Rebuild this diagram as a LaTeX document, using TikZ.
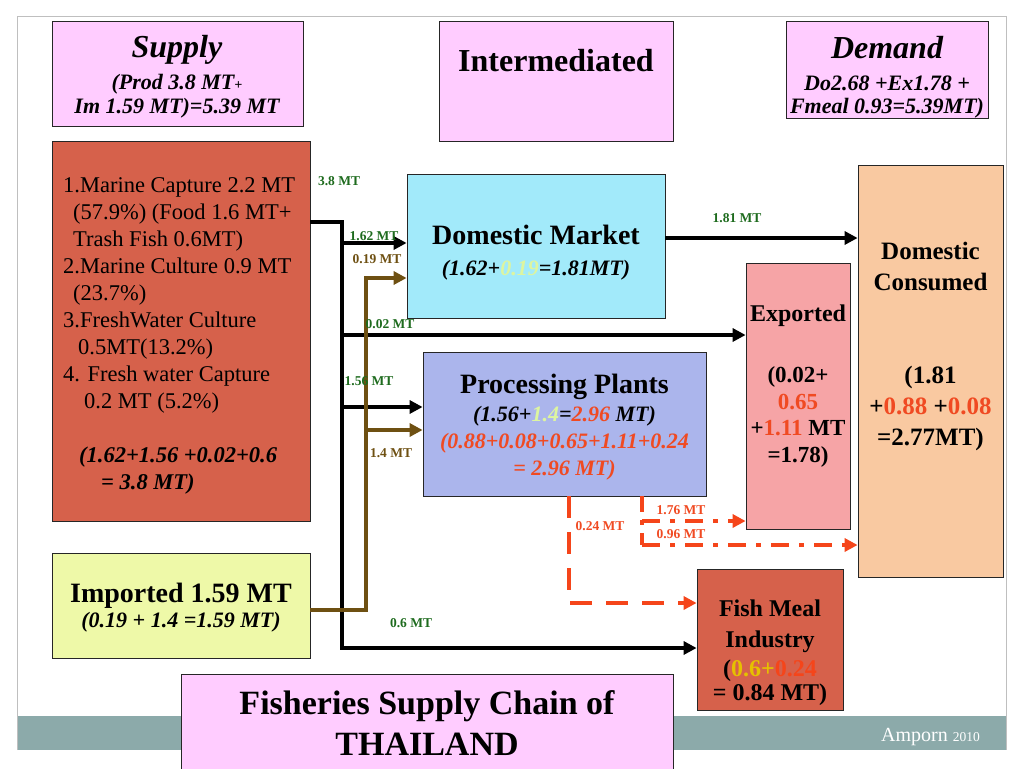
\documentclass[tikz,border=0pt]{standalone}
\usepackage{fontspec}
\setmainfont{Liberation Serif}
\usetikzlibrary{arrows.meta}
\definecolor{pinkbox}{HTML}{FFCCFF}
\definecolor{srcred}{HTML}{D6614B}
\definecolor{cyanbox}{HTML}{A2EAFA}
\definecolor{lavbox}{HTML}{ABB5EC}
\definecolor{expbox}{HTML}{F6A4A6}
\definecolor{peachbox}{HTML}{F9C9A1}
\definecolor{impbox}{HTML}{EEF9A8}
\definecolor{lblgreen}{HTML}{1E6B1E}
\definecolor{brn}{HTML}{6E5012}
\definecolor{redl}{HTML}{F5451A}
\definecolor{redt}{HTML}{F04A22}
\definecolor{paleg}{HTML}{DDF5A0}
\definecolor{yel}{HTML}{E6C000}
\definecolor{band}{HTML}{8CAAAA}
\newcommand{\fsz}[2]{\fontsize{#1}{#2}\selectfont}
\begin{document}
\begin{tikzpicture}[x=1pt,y=-1pt,
  box/.style={draw=black!85, line width=0.8pt, inner sep=0pt},
  txt/.style={inner sep=0pt, align=center},
  lbl/.style={inner sep=0pt, font=\bfseries\fsz{13.5}{15}, text=lblgreen},
  blk/.style={line width=3.2pt, draw=black},
  blka/.style={blk, -{Triangle[length=13pt,width=13pt]}},
  brna/.style={line width=3.4pt, draw=brn, -{Triangle[length=13pt,width=13pt]}},
  reddash/.style={line width=4pt, draw=redl, dash pattern=on 22pt off 14pt, -{Triangle[length=13pt,width=13pt]}},
  reddd/.style={line width=4pt, draw=redl, dash pattern=on 18pt off 10pt on 5pt off 10pt, -{Triangle[length=13pt,width=13pt]}},
  reddd0/.style={line width=4pt, draw=redl, dash pattern=on 16pt off 8pt on 5pt off 8pt}
]
\useasboundingbox (0,0) rectangle (1024,768);
% slide frame
\fill[band] (17,716) rectangle (1006,750);
\draw[black!25, line width=1pt] (17,750) -- (17,17) -- (1006,17) -- (1006,750);
\node[inner sep=0pt, text=white, anchor=base east] (amp) at (980,741) {\fsz{20}{22}Amporn {\fsz{13.5}{15}2010}};

% header boxes
\node[box, fill=pinkbox, minimum width=251pt, minimum height=105pt] (sup) at (177.5,73.5) {};
\node[txt, font=\bfseries\itshape\fsz{22}{24}] (supt) at (177,76.5) {{\fsz{32}{32}Supply}\\[8pt](Prod 3.8 MT{\fsz{14}{16}+}\\Im 1.59 MT)=5.39 MT};
\node[box, fill=pinkbox, minimum width=234pt, minimum height=120pt] (int) at (556,81) {};
\node[txt, font=\bfseries\fsz{32}{34}, anchor=base] (intt) at (556,71) {Intermediated};
\node[box, fill=pinkbox, minimum width=202pt, minimum height=97pt] (dem) at (887,69.5) {};
\node[txt, font=\bfseries\itshape\fsz{22}{23.5}] (demt) at (887,77) {{\fsz{32}{32}Demand}\\[8.5pt]Do2.68 +Ex1.78 +\\Fmeal 0.93=5.39MT)};

% source boxes
\node[box, fill=srcred, minimum width=258pt, minimum height=380pt] (src) at (181,331) {};
\node[inner sep=0pt, align=left, anchor=north west, font=\fsz{22.5}{27}] (srct) at (63,177) {1.Marine Capture 2.2 MT\\
\hspace*{10pt}(57.9\%) (Food 1.6 MT+\\
\hspace*{10pt}Trash Fish 0.6MT)\\
2.Marine Culture 0.9 MT\\
\hspace*{10pt}(23.7\%)\\
3.FreshWater Culture\\
\hspace*{15pt}0.5MT(13.2\%)\\
4. Fresh water Capture\\
\hspace*{21pt}0.2 MT (5.2\%)\\[27pt]
\hspace*{16pt}\bfseries\itshape (1.62+1.56 +0.02+0.6\\
\hspace*{38pt}\bfseries\itshape = 3.8 MT)};
\node[box, fill=impbox, minimum width=258pt, minimum height=105pt] (imp) at (181,605.5) {};
\node[txt, font=\bfseries\fsz{22}{25}] (impt) at (181,608) {{\fsz{28}{30}Imported 1.59 MT}\\\itshape (0.19 + 1.4 =1.59 MT)};

% middle boxes
\node[box, fill=cyanbox, minimum width=258pt, minimum height=144pt] (dm) at (536,246) {};
\node[txt, font=\bfseries\fsz{22}{31}] (dmt) at (536,253) {{\fsz{28}{30}Domestic Market}\\\itshape (1.62+\textcolor{paleg}{0.19}=1.81MT)};
\node[box, fill=lavbox, minimum width=283pt, minimum height=144pt] (pp) at (564.5,424) {};
\node[txt, font=\bfseries\itshape\fsz{22}{27}] (ppt) at (564.5,427) {{\upshape\fsz{28}{30}Processing Plants}\\[1pt](1.56+\textcolor{paleg}{1.4}=\textcolor{redt}{2.96} MT)\\
\textcolor{redt}{(0.88+0.08+0.65+1.11+0.24}\\\textcolor{redt}{= 2.96 MT)}};

% right boxes
\node[box, fill=peachbox, minimum width=145pt, minimum height=412pt] (dc) at (930.5,371) {};
\node[txt, font=\bfseries\fsz{25}{31}] (dct) at (930.5,346) {Domestic\\Consumed\\[62pt](1.81\\+\textcolor{redt}{0.88} +\textcolor{redt}{0.08}\\=2.77MT)};
\node[box, fill=expbox, minimum width=104pt, minimum height=266pt] (ex) at (798,396) {};
\node[txt, font=\bfseries\fsz{23}{26.5}] (ext) at (798,386) {{\fsz{24}{26}Exported}\\[34.5pt](0.02+\\\textcolor{redt}{0.65}\\+\textcolor{redt}{1.11} MT\\=1.78)};
\node[box, fill=srcred, minimum width=146pt, minimum height=141pt] (fm) at (770,639.5) {};
\node[txt, font=\bfseries\fsz{24}{28}] (fmt) at (770,653) {Fish Meal\\[3pt]Industry\\[1pt](\textcolor{yel}{0.6+}\textcolor{redl}{0.24}\\[-4pt]= 0.84 MT)};

% title
\node[box, fill=pinkbox, minimum width=492pt, minimum height=104pt, anchor=north] (ttl) at (427,674) {};
\node[txt, font=\bfseries\fsz{34}{41}] (ttlt) at (427,723.5) {Fisheries Supply Chain of\\THAILAND};

% black connectors
\coordinate (b1) at (342,222);
\coordinate (b2) at (342,243);
\coordinate (b3) at (342,335);
\coordinate (b4) at (342,407);
\coordinate (b5) at (342,648);
\draw[blka] (src.east |- b1) -- (b1) -- (b5) -- (b5 -| fm.west);
\draw[blka] (b2) -- (b2 -| dm.west);
\draw[blka] (b3) -- (b3 -| ex.west);
\draw[blka] (b4) -- (b4 -| pp.west);
\coordinate (d1) at (665,238);
\draw[blka] (dm.east |- d1) -- (d1 -| dc.west);

% brown connectors
\coordinate (r0) at (366,610);
\coordinate (r1) at (366,278);
\coordinate (r2) at (366,430);
\draw[brna] (imp.east |- r0) -- (r0) -- (r1) -- (r1 -| dm.west);
\draw[brna] (r2) -- (r2 -| pp.west);

% red connectors
\coordinate (q1) at (569,603);
\draw[reddash] (pp.south -| q1) -- (q1) -- (q1 -| fm.west);
\coordinate (q2) at (642,521);
\coordinate (q3) at (642,545);
\draw[reddd0] (pp.south -| q2) -- (q3);
\draw[reddd] (q3) -- (q3 -| dc.west);
\draw[reddd] (q2) -- (q2 -| ex.west);

% labels
\node[lbl] (l38) at (339,181) {3.8 MT};
\node[lbl] (l162) at (374,236) {1.62 MT};
\node[lbl, text=brn] (l019) at (377,259) {0.19 MT};
\node[lbl] (l181) at (737,218) {1.81 MT};
\node[lbl] (l002) at (390,324) {0.02 MT};
\node[lbl] (l156) at (369,381) {1.56 MT};
\node[lbl, text=brn] (l14) at (391,453) {1.4 MT};
\node[lbl] (l06) at (411,623) {0.6 MT};
\node[lbl, text=redt] (l176) at (681,510) {1.76 MT};
\node[lbl, text=redt] (l024) at (600,526) {0.24 MT};
\node[lbl, text=redt] (l096) at (681,534) {0.96 MT};
\end{tikzpicture}
\end{document}
